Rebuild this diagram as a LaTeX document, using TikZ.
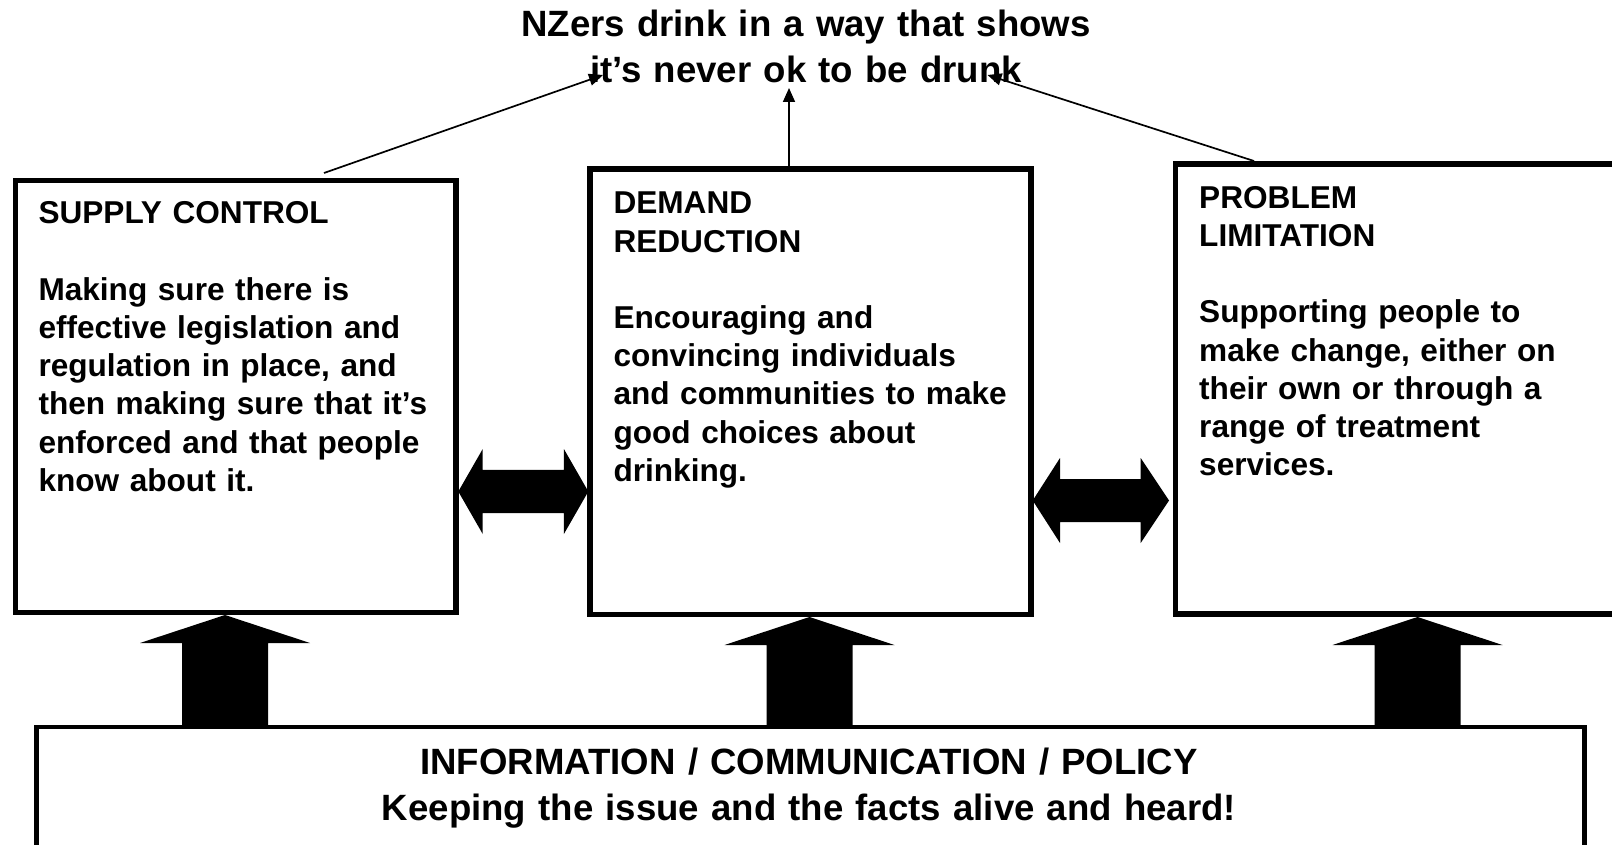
\documentclass[tikz,border=0pt]{standalone}
\usepackage{fontspec}
\setmainfont{Liberation Sans}
\usetikzlibrary{arrows.meta,calc}
\tikzset{
  box/.style={draw=black, line width=5.6pt, rectangle, inner sep=0pt},
  boxtext/.style={anchor=base west, inner sep=0pt, text width=430pt, align=left,
    font=\fontsize{31.6}{38.2}\selectfont\bfseries},
  bigtext/.style={anchor=base, inner sep=0pt, text width=1000pt, align=center,
    font=\fontsize{36.6}{45.5}\selectfont\bfseries},
  thinarrow/.style={draw=black, line width=1.7pt, -{Triangle[length=14pt,width=12pt]}},
  uparrow/.pic={\fill[black] (0,0) -- (85,28) -- (43,28) -- (43,111) -- (-43,111) -- (-43,28) -- (-85,28) -- cycle;}
}
\begin{document}
\begin{tikzpicture}[x=1pt,y=-1pt]
\useasboundingbox (0,0) rectangle (1612,845);
\clip (0,0) rectangle (1612,845);
\fill[white] (0,0) rectangle (1612,845);

% boxes
\node[box, minimum width=440.5pt, minimum height=432pt] (supply) at (235.75,396.5) {};
\node[box, minimum width=441pt, minimum height=445.5pt] (demand) at (810.5,391.75) {};
\node[box, minimum width=474.5pt, minimum height=450pt] (problem) at (1412.75,389) {};
\node[box, line width=4.4pt, minimum width=1548pt, minimum height=153pt] (info) at (810.5,803.5) {};

% box texts
\node[boxtext] (supplytxt) at (38.3,224) {SUPPLY CONTROL\\[38.2pt]
Making sure there is\\ effective legislation and\\ regulation in place, and\\
then making sure that it’s\\ enforced and that people\\ know about it.};
\node[boxtext] (demandtxt) at (613.3,214) {DEMAND\\ REDUCTION\\[38.2pt]
Encouraging and\\ convincing individuals\\ and communities to make\\
good choices about\\ drinking.};
\node[boxtext] (problemtxt) at (1199,208.3) {PROBLEM\\ LIMITATION\\[38.2pt]
Supporting people to\\ make change, either on\\ their own or through a\\
range of treatment\\ services.};

% title and info text
\node[bigtext] (title) at (806,37) {NZers drink in a way that shows\\ it’s never ok to be drunk};
\node[bigtext, font=\fontsize{36.6}{46}\selectfont\bfseries] (infotxt) at (809,774)
  {INFORMATION / COMMUNICATION / POLICY\\ Keeping the issue and the facts alive and heard!};

% up arrows
\pic at (225,615) {uparrow};
\pic at (809.5,617) {uparrow};
\pic at (1417.5,617) {uparrow};

% double arrows
\fill[black, shift={(458.3,491.5)}] (0,0) -- (24.4,-42.5) -- (24.4,-21.7) -- (105.6,-21.7) -- (105.6,-42.5) -- (130,0) -- (105.6,42.5) -- (105.6,21.7) -- (24.4,21.7) -- (24.4,42.5) -- cycle;
\fill[black, shift={(1032.7,500.5)}] (0,0) -- (27.3,-42.5) -- (27.3,-21.5) -- (108,-21.5) -- (108,-42.5) -- (136.3,0) -- (108,42.5) -- (108,21.5) -- (27.3,21.5) -- (27.3,42.5) -- cycle;

% thin arrows to the goal
\coordinate (sL) at (324,173);
\coordinate (tL) at (603,75);
\coordinate (sM) at (789,166);
\coordinate (tM) at (789,88);
\coordinate (sR) at (1254,161);
\coordinate (tR) at (987.5,75);
\draw[thinarrow] (sL) -- (tL);
\draw[thinarrow] (sM) -- (tM);
\draw[thinarrow] (sR) -- (tR);
\end{tikzpicture}
\end{document}
